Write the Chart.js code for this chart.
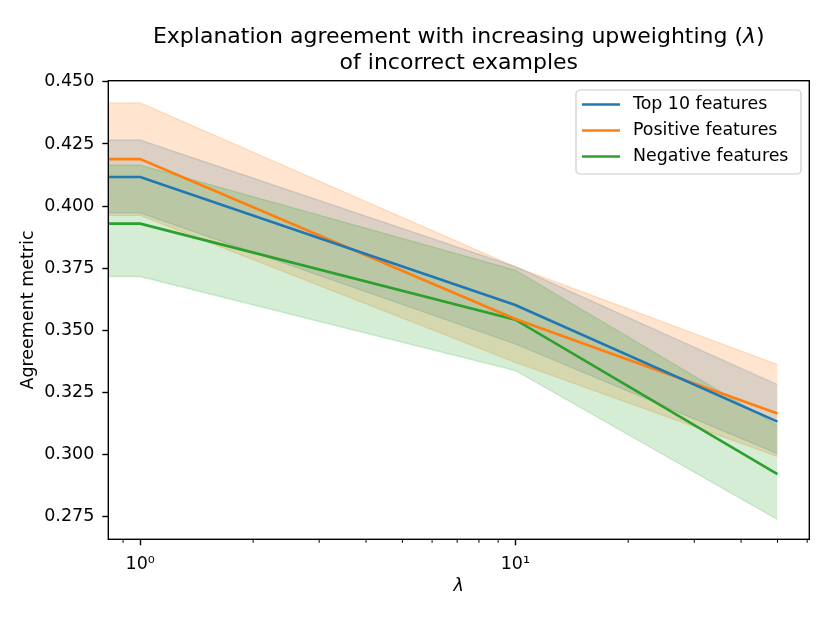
<!DOCTYPE html>
<html>
<head>
<meta charset="utf-8">
<script src="https://cdn.jsdelivr.net/npm/chart.js@4.4.1/dist/chart.umd.min.js"></script>
<style>
  body { margin: 0; background: #fff; }
  #wrap { width: 830px; height: 623px; }
</style>
</head>
<body>
<div id="wrap"><canvas id="myChart" width="830" height="623"></canvas></div>
<script>
// lambda values (0 sits at the left edge of the log axis)
const lambdas = [0, 1, 10, 50];

const top10Mean = [0.4117, 0.4117, 0.3601, 0.3131];
const top10Upper = [0.4266, 0.4266, 0.3756, 0.3280];
const top10Lower = [0.3972, 0.3972, 0.3444, 0.3002];

const positiveMean = [0.4189, 0.4189, 0.3545, 0.3164];
const positiveUpper = [0.4416, 0.4416, 0.3755, 0.3361];
const positiveLower = [0.3962, 0.3962, 0.3370, 0.2991];

const negativeMean = [0.3929, 0.3929, 0.3542, 0.2920];
const negativeUpper = [0.4165, 0.4165, 0.3742, 0.3116];
const negativeLower = [0.3716, 0.3716, 0.3337, 0.2737];

const seriesNames = ["Top 10 features", "Positive features", "Negative features"];
const seriesColors = ["31, 119, 180", "255, 127, 14", "44, 160, 44"];

const titleLine1 = "Explanation agreement with increasing upweighting (";
const titleSymbol = "\u03bb";
const titleLine1End = ")";
const titleLine2 = "of incorrect examples";

const yTicks = [0.275, 0.300, 0.325, 0.350, 0.375, 0.400, 0.425, 0.450];
const xMajorTicks = [1, 10];
const xMinorTicks = [0.9, 2, 3, 4, 5, 6, 7, 8, 9, 20, 30, 40, 50, 60];
const xTickLabels = { 1: "10\u2070", 10: "10\u00b9" };

const FONT = "'DejaVu Sans', sans-serif";

function puntos(valores) {
    return lambdas.map((l, i) => ({ x: l, y: valores[i] }));
}

const means = [top10Mean, positiveMean, negativeMean];
const uppers = [top10Upper, positiveUpper, negativeUpper];
const lowers = [top10Lower, positiveLower, negativeLower];

const datasets = [];
// main lines first so they end up drawn on top
means.forEach((m, i) => {
    datasets.push({
        label: seriesNames[i],
        data: puntos(m),
        borderColor: `rgb(${seriesColors[i]})`,
        borderWidth: 2.6,
        pointRadius: 0,
        fill: false,
        tension: 0
    });
});
// bands: last series first, so the first band sits at the bottom
[2, 1, 0].forEach(i => {
    const lowerIndex = datasets.length;
    datasets.push({
        label: "lower",
        data: puntos(lowers[i]),
        borderColor: `rgba(${seriesColors[i]}, 0.2)`,
        borderWidth: 1.3,
        pointRadius: 0,
        fill: false,
        tension: 0
    });
    datasets.push({
        label: "upper",
        data: puntos(uppers[i]),
        borderColor: `rgba(${seriesColors[i]}, 0.2)`,
        backgroundColor: `rgba(${seriesColors[i]}, 0.2)`,
        borderWidth: 1.3,
        pointRadius: 0,
        fill: { target: lowerIndex },
        tension: 0
    });
});

// title, box, minor ticks and legend like matplotlib
const marcoPlugin = {
    id: "marco",
    afterDatasetsDraw(chart) {
        const { ctx, chartArea: a, scales } = chart;
        ctx.save();
        ctx.strokeStyle = "#000";
        ctx.lineWidth = 1.4;
        ctx.strokeRect(a.left, a.top, a.right - a.left, a.bottom - a.top);
        ctx.lineWidth = 1;
        xMinorTicks.forEach(v => {
            const px = scales.x.getPixelForValue(v);
            if (px < a.left || px > a.right) return;
            ctx.beginPath();
            ctx.moveTo(px, a.bottom);
            ctx.lineTo(px, a.bottom + 3.5);
            ctx.stroke();
        });
        ctx.restore();
    },
    afterDraw(chart) {
        const { ctx, chartArea: a } = chart;
        ctx.save();
        // title with italic lambda
        const cx = (a.left + a.right) / 2;
        const normal = "22px " + FONT;
        const italic = "italic 22px " + FONT;
        ctx.fillStyle = "#000";
        ctx.textBaseline = "middle";
        ctx.textAlign = "left";
        ctx.font = normal;
        const w1 = ctx.measureText(titleLine1).width;
        const w3 = ctx.measureText(titleLine1End).width;
        ctx.font = italic;
        const w2 = ctx.measureText(titleSymbol).width;
        let tx = cx - (w1 + w2 + w3) / 2;
        ctx.font = normal;
        ctx.fillText(titleLine1, tx, 37.5);
        ctx.font = italic;
        ctx.fillText(titleSymbol, tx + w1, 37.5);
        ctx.font = normal;
        ctx.fillText(titleLine1End, tx + w1 + w2, 37.5);
        ctx.textAlign = "center";
        ctx.fillText(titleLine2, cx, 63);

        // legend
        ctx.textAlign = "left";
        const bx = 576, by = 90, bw = 225, bh = 84;
        ctx.beginPath();
        ctx.roundRect(bx, by, bw, bh, 4);
        ctx.fillStyle = "rgba(255,255,255,0.8)";
        ctx.fill();
        ctx.strokeStyle = "#cccccc";
        ctx.lineWidth = 1.2;
        ctx.stroke();
        ctx.font = "17.4px " + FONT;
        ctx.fillStyle = "#000";
        seriesNames.forEach((name, i) => {
            const y = 104.5 + i * 26;
            ctx.beginPath();
            ctx.moveTo(582, y);
            ctx.lineTo(620, y);
            ctx.strokeStyle = chart.data.datasets[i].borderColor;
            ctx.lineWidth = 2.6;
            ctx.stroke();
            ctx.fillText(name, 633, y);
        });
        ctx.restore();
    }
};

const config = {
    type: "line",
    data: { datasets },
    options: {
        responsive: false,
        animation: false,
        layout: { padding: { left: 0, right: 20.7, top: 80.7, bottom: 0 } },
        plugins: {
            legend: { display: false },
            tooltip: { enabled: false },
            title: { display: false }
        },
        scales: {
            x: {
                type: "logarithmic",
                min: 0.822,
                max: 60.8,
                border: { display: false },
                grid: {
                    drawOnChartArea: false,
                    drawTicks: true,
                    tickLength: 6,
                    tickWidth: 1.4,
                    tickColor: "#000"
                },
                ticks: {
                    color: "#000",
                    font: { family: FONT, size: 17.5 },
                    padding: 9,
                    maxRotation: 0,
                    autoSkip: false,
                    callback: (v) => xTickLabels[v] || ""
                },
                afterBuildTicks: (scale) => {
                    scale.ticks = xMajorTicks.map(v => ({ value: v, major: true }));
                },
                afterFit: (scale) => { scale.height = 83.7; },
                title: {
                    display: true,
                    text: "\u03bb",
                    color: "#000",
                    font: { family: FONT, size: 17.5, style: "italic" },
                    padding: { top: 0, bottom: 26 }
                }
            },
            y: {
                type: "linear",
                min: 0.2657,
                max: 0.4505,
                border: { display: false },
                grid: {
                    drawOnChartArea: false,
                    drawTicks: true,
                    tickLength: 6,
                    tickWidth: 1.4,
                    tickColor: "#000"
                },
                ticks: {
                    color: "#000",
                    font: { family: FONT, size: 17.5 },
                    padding: 8,
                    callback: (v) => Number(v).toFixed(3)
                },
                afterBuildTicks: (scale) => {
                    scale.ticks = yTicks.map(v => ({ value: v }));
                },
                afterFit: (scale) => { scale.width = 108.3; },
                title: {
                    display: true,
                    text: "Agreement metric",
                    color: "#000",
                    font: { family: FONT, size: 17.5 },
                    padding: { top: 18, bottom: 0 }
                }
            }
        }
    },
    plugins: [marcoPlugin]
};

const myChart = new Chart(document.getElementById("myChart"), config);
</script>
</body>
</html>
